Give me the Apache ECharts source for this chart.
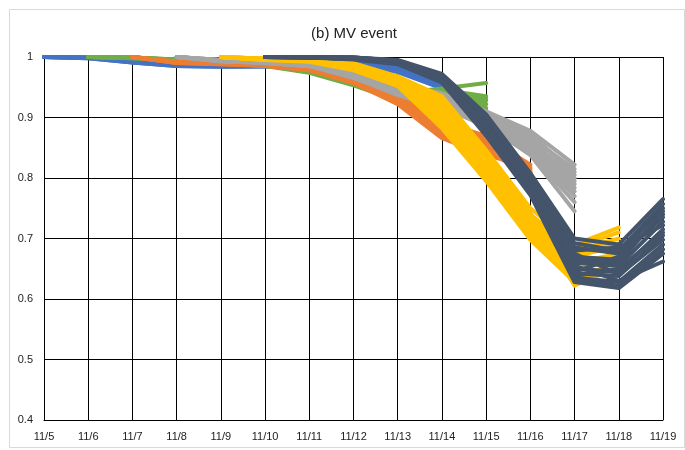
<!DOCTYPE html>
<html>
<head>
<meta charset="utf-8">
<script src="https://cdn.jsdelivr.net/npm/echarts@6/dist/echarts.min.js"></script>
<style>html,body{margin:0;padding:0;background:#fff}#c{width:685px;height:450px}</style>
</head>
<body>
<div id="c"></div>
<script>
const categories = ['11/5','11/6','11/7','11/8','11/9','11/10','11/11','11/12','11/13','11/14','11/15','11/16','11/17','11/18','11/19'];
const yTicks = [0.4, 0.5, 0.6, 0.7, 0.8, 0.9, 1];

// Each group: forecast runs starting at a given date (index into categories), 10 days each
const blueStart = 0;
const blueRuns = [
  [1.000,0.999,0.993,0.987,0.986,0.986,0.988,0.990,0.984,0.968],
  [1.000,0.999,0.992,0.986,0.985,0.985,0.987,0.989,0.982,0.962],
  [1.000,0.998,0.991,0.985,0.984,0.985,0.986,0.988,0.979,0.956],
  [1.000,0.999,0.992,0.986,0.985,0.986,0.987,0.987,0.977,0.951],
  [1.000,0.999,0.993,0.988,0.987,0.987,0.989,0.991,0.985,0.965],
  [1.000,0.998,0.991,0.985,0.984,0.984,0.986,0.986,0.975,0.948]
];
const greenStart = 1;
const greenRuns = [
  [1.000,0.999,0.996,0.992,0.988,0.978,0.960,0.940,0.948,0.957],
  [1.000,0.999,0.995,0.991,0.987,0.976,0.957,0.935,0.946,0.935],
  [1.000,0.999,0.995,0.991,0.986,0.975,0.955,0.930,0.942,0.922],
  [1.000,0.998,0.994,0.990,0.985,0.974,0.953,0.928,0.938,0.912],
  [1.000,0.999,0.996,0.992,0.988,0.977,0.958,0.937,0.944,0.928],
  [1.000,0.998,0.995,0.991,0.987,0.976,0.956,0.933,0.940,0.916],
  [1.000,0.999,0.995,0.991,0.986,0.975,0.954,0.931,0.943,0.931]
];
const orangeStart = 2;
const orangeRuns = [
  [1.000,0.992,0.990,0.988,0.981,0.962,0.935,0.890,0.870,0.870],
  [1.000,0.991,0.989,0.987,0.979,0.960,0.930,0.880,0.862,0.815],
  [1.000,0.990,0.988,0.986,0.978,0.958,0.925,0.870,0.857,0.808],
  [1.000,0.992,0.990,0.987,0.980,0.961,0.940,0.895,0.852,0.812],
  [1.000,0.991,0.989,0.986,0.979,0.959,0.928,0.875,0.845,0.805],
  [1.000,0.990,0.988,0.985,0.978,0.957,0.922,0.866,0.838,0.818],
  [1.000,0.992,0.990,0.988,0.982,0.963,0.945,0.900,0.866,0.810],
  [1.000,0.991,0.989,0.987,0.980,0.960,0.932,0.885,0.868,0.822]
];
const grayStart = 3;
const grayRuns = [
  [1.000,0.995,0.992,0.988,0.975,0.955,0.940,0.910,0.878,0.822],
  [1.000,0.994,0.991,0.986,0.972,0.950,0.935,0.905,0.870,0.810],
  [1.000,0.993,0.990,0.985,0.970,0.945,0.928,0.900,0.862,0.800],
  [1.000,0.994,0.991,0.987,0.968,0.940,0.920,0.895,0.855,0.790],
  [1.000,0.995,0.992,0.988,0.966,0.937,0.915,0.890,0.848,0.778],
  [1.000,0.993,0.990,0.985,0.965,0.942,0.918,0.885,0.840,0.760],
  [1.000,0.994,0.991,0.986,0.969,0.948,0.925,0.888,0.838,0.745],
  [1.000,0.995,0.991,0.987,0.973,0.952,0.932,0.898,0.866,0.815],
  [1.000,0.994,0.992,0.986,0.971,0.947,0.930,0.903,0.874,0.805],
  [1.000,0.993,0.991,0.987,0.967,0.944,0.922,0.893,0.858,0.795],
  [1.000,0.995,0.990,0.985,0.970,0.939,0.917,0.887,0.851,0.784],
  [1.000,0.994,0.991,0.986,0.966,0.943,0.921,0.892,0.845,0.770]
];
const yellowStart = 4;
const yellowRuns = [
  [1.000,0.997,0.995,0.990,0.968,0.935,0.846,0.750,0.690,0.718],
  [1.000,0.996,0.994,0.988,0.966,0.925,0.840,0.740,0.680,0.700],
  [1.000,0.997,0.993,0.986,0.964,0.915,0.832,0.730,0.670,0.688],
  [1.000,0.996,0.994,0.984,0.961,0.905,0.822,0.722,0.660,0.675],
  [1.000,0.997,0.995,0.982,0.958,0.898,0.813,0.715,0.650,0.665],
  [1.000,0.996,0.993,0.980,0.955,0.890,0.804,0.705,0.640,0.655],
  [1.000,0.995,0.992,0.978,0.952,0.882,0.795,0.698,0.628,0.648],
  [1.000,0.996,0.994,0.985,0.965,0.928,0.843,0.742,0.622,0.660],
  [1.000,0.997,0.995,0.989,0.967,0.912,0.820,0.720,0.675,0.692],
  [1.000,0.996,0.994,0.987,0.966,0.920,0.836,0.735,0.685,0.710],
  [1.000,0.997,0.993,0.983,0.960,0.902,0.808,0.710,0.645,0.670],
  [1.000,0.995,0.994,0.981,0.954,0.887,0.800,0.702,0.635,0.652]
];
const darkStart = 5;
const darkRuns = [
  [1.000,1.000,0.999,0.995,0.972,0.905,0.808,0.700,0.690,0.765],
  [1.000,1.000,0.999,0.994,0.970,0.900,0.802,0.685,0.675,0.750],
  [1.000,1.000,0.998,0.993,0.968,0.895,0.797,0.670,0.665,0.740],
  [1.000,0.999,0.998,0.992,0.966,0.890,0.792,0.660,0.655,0.728],
  [1.000,1.000,0.998,0.991,0.964,0.885,0.788,0.650,0.645,0.715],
  [1.000,0.999,0.997,0.990,0.962,0.880,0.783,0.642,0.638,0.705],
  [1.000,1.000,0.997,0.989,0.960,0.875,0.778,0.635,0.628,0.690],
  [1.000,0.999,0.996,0.988,0.958,0.870,0.772,0.628,0.618,0.675],
  [1.000,1.000,0.998,0.992,0.967,0.893,0.795,0.655,0.630,0.662],
  [1.000,0.999,0.997,0.990,0.963,0.882,0.785,0.645,0.670,0.735],
  [1.000,1.000,0.999,0.994,0.969,0.898,0.800,0.680,0.685,0.722],
  [1.000,1.000,0.998,0.993,0.966,0.888,0.790,0.665,0.660,0.745],
  [1.000,0.999,0.997,0.991,0.961,0.878,0.780,0.638,0.650,0.710],
  [1.000,1.000,0.998,0.992,0.965,0.886,0.786,0.675,0.640,0.698],
  [1.000,0.999,0.997,0.989,0.959,0.872,0.775,0.632,0.622,0.682],
  [1.000,1.000,0.999,0.994,0.970,0.902,0.804,0.692,0.680,0.757]
];

const groups = [
  {start: blueStart, runs: blueRuns, color: '#4472C4'},
  {start: greenStart, runs: greenRuns, color: '#70AD47'},
  {start: orangeStart, runs: orangeRuns, color: '#ED7D31'},
  {start: grayStart, runs: grayRuns, color: '#A5A5A5'},
  {start: yellowStart, runs: yellowRuns, color: '#FFC000'},
  {start: darkStart, runs: darkRuns, color: '#44546A'}
];

const series = [];
groups.forEach(g => {
  g.runs.forEach(run => {
    const data = categories.map(() => '-');
    run.forEach((v, i) => { data[g.start + i] = v; });
    series.push({
      type: 'line', data: data, symbol: 'none', silent: true,
      lineStyle: {color: g.color, width: 4, cap: 'round', join: 'round'},
      itemStyle: {color: g.color}
    });
  });
});

const chart = echarts.init(document.getElementById('c'), null, {renderer: 'canvas'});
chart.setOption({
  animation: false,
  backgroundColor: '#fff',
  title: {
    text: '(b) MV event', left: 349, top: 21, textAlign: 'center',
    textStyle: {fontFamily: 'Liberation Sans', fontSize: 15, fontWeight: 'normal', color: '#222'}
  },
  graphic: [{
    type: 'rect', shape: {x: 9.5, y: 9.5, width: 675, height: 438},
    style: {fill: 'none', stroke: '#d9d9d9', lineWidth: 1}, silent: true, z: -10
  }],
  grid: {left: 44, right: 22, top: 57, bottom: 30},
  xAxis: {
    type: 'category', data: categories, boundaryGap: false,
    axisLine: {show: true, lineStyle: {color: '#000', width: 1}},
    axisTick: {show: false},
    axisLabel: {margin: 11, fontFamily: 'Liberation Sans', fontSize: 11, color: '#222', interval: 0},
    splitLine: {show: true, lineStyle: {color: '#000', width: 1}}
  },
  yAxis: {
    type: 'value', min: yTicks[0], max: yTicks[yTicks.length - 1], interval: 0.1,
    axisLine: {show: true, lineStyle: {color: '#000', width: 1}},
    axisTick: {show: false},
    axisLabel: {margin: 11, fontFamily: 'Liberation Sans', fontSize: 11, color: '#222'},
    splitLine: {show: true, lineStyle: {color: '#000', width: 1}}
  },
  series: series
});
</script>
</body>
</html>
